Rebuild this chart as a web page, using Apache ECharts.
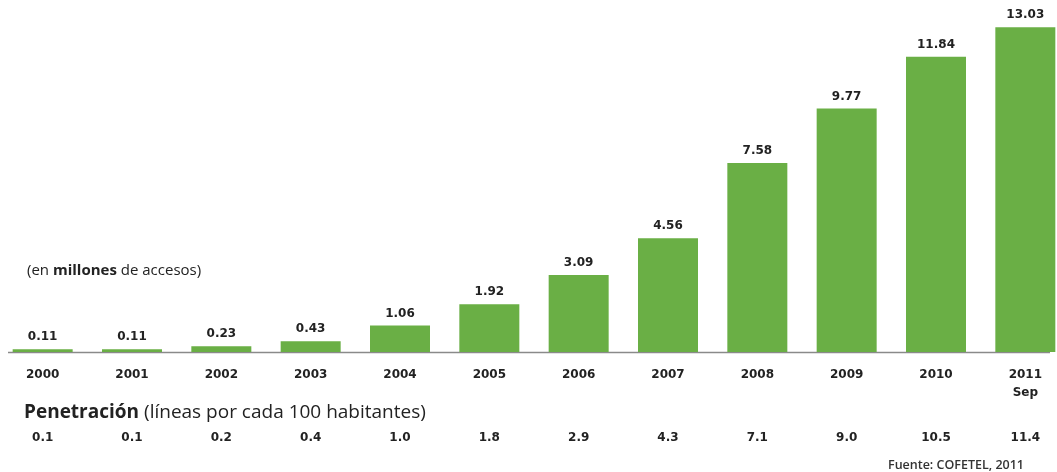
<!DOCTYPE html>
<html>
<head>
<meta charset="utf-8">
<script src="https://cdn.jsdelivr.net/npm/echarts@6/dist/echarts.min.js"></script>
<style>
html,body{margin:0;padding:0;background:#fff;}
#chart{width:1057px;height:472px;}
</style>
</head>
<body>
<div id="chart"></div>
<script>
const years = ['2000','2001','2002','2003','2004','2005','2006','2007','2008','2009','2010','2011\nSep'];
const accesses = [0.11, 0.11, 0.23, 0.43, 1.06, 1.92, 3.09, 4.56, 7.58, 9.77, 11.84, 13.03];
const penetration = ['0.1','0.1','0.2','0.4','1.0','1.8','2.9','4.3','7.1','9.0','10.5','11.4'];

const chart = echarts.init(document.getElementById('chart'));
const font = 'DejaVu Sans';
chart.setOption({
  animation: false,
  backgroundColor: '#ffffff',
  grid: { left: -2, top: 3, width: 1072, height: 349, containLabel: false, outerBoundsMode: 'none' },
  title: [
    {
      text: '{n|(en }{b|millones}{n| de accesos)}',
      left: 22, top: 258,
      textStyle: {
        fontWeight: 'normal',
        rich: {
          n: { fontFamily: 'Open Sans', fontSize: 15, fontWeight: 'normal', color: '#222' },
          b: { fontFamily: 'Open Sans', fontSize: 15, fontWeight: 'bold', color: '#222' }
        }
      }
    },
    {
      text: '{b|Penetración} {n|(líneas por cada 100 habitantes)}',
      left: 19, top: 398,
      textStyle: {
        fontWeight: 'normal',
        rich: {
          b: { fontFamily: 'Open Sans', fontSize: 19, fontWeight: 'bold', color: '#222' },
          n: { fontFamily: 'Open Sans', fontSize: 19, fontWeight: 'normal', color: '#222' }
        }
      }
    },
    {
      text: 'Fuente: COFETEL, 2011',
      right: 28, top: 454,
      textStyle: { fontFamily: 'Open Sans', fontSize: 12.5, fontWeight: 600, color: '#333' }
    }
  ],
  xAxis: [
    {
      type: 'category',
      data: years,
      position: 'bottom',
      axisLine: { show: false },
      axisTick: { show: false },
      axisLabel: {
        fontFamily: font, fontSize: 12, fontWeight: 'bold', color: '#222',
        margin: 14, lineHeight: 18, interval: 0
      }
    },
    {
      type: 'category',
      data: penetration,
      position: 'bottom',
      offset: 78,
      axisLine: { show: false },
      axisTick: { show: false },
      axisLabel: {
        fontFamily: font, fontSize: 12, fontWeight: 'bold', color: '#222',
        margin: 2, interval: 0
      }
    }
  ],
  yAxis: {
    type: 'value', min: 0, max: 14, show: false,
    splitLine: { show: false }
  },
  series: [{
    type: 'bar',
    data: accesses,
    xAxisIndex: 0,
    barWidth: 60,
    itemStyle: { color: '#6aaf45' },
    label: {
      show: true, position: 'top', distance: 6,
      fontFamily: font, fontSize: 12, fontWeight: 'bold', color: '#222',
      formatter: p => p.value.toFixed(2)
    }
  }],
  graphic: [{
    type: 'line',
    shape: { x1: 8, y1: 352.5, x2: 1050, y2: 352.5 },
    style: { stroke: '#8a8a8a', lineWidth: 1.5 }
  }]
});
</script>
</body>
</html>
